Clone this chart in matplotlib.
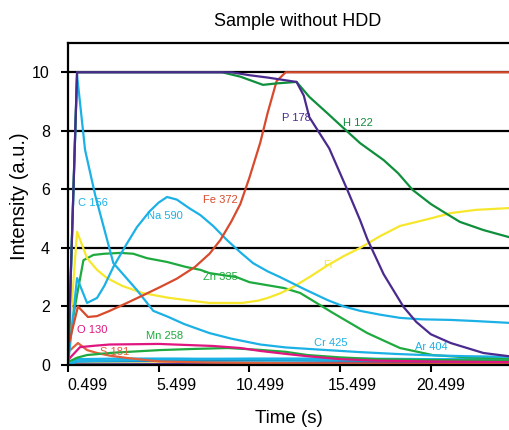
import matplotlib
matplotlib.use("Agg")
import matplotlib.pyplot as plt

plt.rcParams['font.family'] = ['Liberation Sans', 'DejaVu Sans']

# ---- data (time in s, intensity in a.u.) ----
h122_t = [0, 0.5, 8.5, 9.5, 10.75, 11.5, 12.6, 13.3, 14.3, 15.0, 16.1, 17.4, 18.2, 19.0, 20.0, 20.7, 21.6, 22.9, 24.3]
h122_v = [0, 10, 10, 9.85, 9.57, 9.62, 9.67, 9.16, 8.6, 8.2, 7.58, 7.0, 6.55, 5.98, 5.5, 5.23, 4.89, 4.61, 4.37]

p178_t = [0, 0.5, 9.0, 10.0, 11.0, 12.6, 13.0, 13.3, 14.4, 15.4, 16.1, 16.5, 17.4, 18.5, 19.2, 20.0, 21.1, 22.9, 24.3]
p178_v = [0, 10, 10, 9.9, 9.82, 9.67, 9.2, 8.47, 7.4, 5.98, 4.95, 4.3, 3.1, 1.98, 1.47, 1.05, 0.75, 0.41, 0.3]

fe372_t = [0, 0.55, 1.1, 1.6, 2.3, 3.25, 4.2, 5.07, 6.0, 7.0, 7.8, 8.4, 9.0, 9.5, 10.0, 10.6, 11.0, 11.5, 12.0, 24.3]
fe372_v = [0.6, 2.0, 1.64, 1.67, 1.85, 2.12, 2.4, 2.66, 2.95, 3.35, 3.8, 4.27, 4.9, 5.5, 6.4, 7.6, 8.6, 9.7, 10, 10]

c156_t = [0, 0.5, 0.94, 1.5, 2.5, 3.8, 4.7, 5.5, 6.4, 7.3, 7.8, 9.0, 10.6, 12.0, 14.0, 16.1, 18.0, 20.0, 22.0, 24.3]
c156_v = [0, 9.9, 7.35, 5.8, 3.48, 2.56, 1.85, 1.65, 1.4, 1.2, 1.09, 0.9, 0.7, 0.6, 0.52, 0.44, 0.38, 0.33, 0.3, 0.28]

na590_t = [0, 0.5, 1.05, 1.6, 2.0, 2.5, 3.2, 3.8, 4.5, 5.0, 5.46, 6.0, 6.7, 7.3, 8.0, 8.76, 9.5, 10.2, 11.0, 11.7, 13.0, 14.3, 15.2, 16.1, 17.2, 18.3, 19.5, 21.1, 22.5, 24.3]
na590_v = [0, 2.97, 2.12, 2.29, 2.7, 3.35, 4.1, 4.71, 5.25, 5.55, 5.74, 5.65, 5.35, 5.12, 4.75, 4.27, 3.85, 3.48, 3.2, 3.0, 2.6, 2.22, 2.0, 1.85, 1.72, 1.61, 1.56, 1.54, 1.5, 1.44]

fi_t = [0, 0.5, 1.05, 1.6, 2.15, 3.0, 4.1, 5.5, 7.0, 7.8, 9.6, 10.5, 11.0, 11.7, 12.4, 13.3, 14.3, 15.2, 16.1, 17.2, 18.3, 19.95, 21.1, 22.5, 24.3]
fi_v = [0.3, 4.55, 3.65, 3.25, 2.97, 2.7, 2.46, 2.3, 2.18, 2.12, 2.12, 2.2, 2.29, 2.45, 2.66, 3.0, 3.4, 3.72, 4.0, 4.4, 4.75, 5.0, 5.19, 5.3, 5.36]

zn335_t = [0, 0.5, 0.85, 1.4, 2.0, 2.9, 3.6, 4.35, 5.46, 6.5, 7.3, 7.8, 9.3, 10.0, 11.9, 12.8, 14.6, 16.5, 18.3, 20.1, 22.0, 24.3]
zn335_v = [0.6, 2.4, 3.58, 3.76, 3.8, 3.83, 3.8, 3.65, 3.52, 3.35, 3.25, 3.14, 3.0, 2.83, 2.63, 2.46, 1.78, 1.09, 0.58, 0.34, 0.26, 0.22]

mn258_t = [0, 0.5, 1.05, 2.5, 5.07, 7.0, 8.8, 10.5, 12.0, 13.2, 15.0, 17.0, 20.0, 24.3]
mn258_v = [0.1, 0.25, 0.34, 0.42, 0.51, 0.55, 0.58, 0.52, 0.45, 0.34, 0.26, 0.2, 0.17, 0.15]

o130_t = [0, 0.66, 1.5, 2.3, 5.0, 8.0, 9.5, 10.6, 12.0, 13.2, 15.0, 17.0, 20.0, 24.3]
o130_v = [0.17, 0.61, 0.66, 0.7, 0.72, 0.65, 0.58, 0.48, 0.38, 0.3, 0.2, 0.15, 0.12, 0.1]

s181_t = [0, 0.55, 1.05, 1.6, 2.3, 3.25, 5.07, 8.0, 12.0, 16.0, 20.0, 24.3]
s181_v = [0.44, 0.75, 0.51, 0.41, 0.32, 0.24, 0.12, 0.08, 0.06, 0.05, 0.04, 0.04]

cr425_t = [0, 0.5, 2.0, 4.0, 7.0, 10.0, 13.0, 16.0, 20.0, 24.3]
cr425_v = [0, 0.12, 0.15, 0.18, 0.2, 0.22, 0.22, 0.22, 0.2, 0.2]

ar404_t = [0, 0.5, 3.0, 6.0, 10.0, 14.0, 18.0, 24.3]
ar404_v = [0, 0.2, 0.22, 0.22, 0.2, 0.18, 0.17, 0.17]

low_t = [0, 0.5, 5.0, 10.0, 14.0, 18.0, 24.3]
low_teal_v = [0, 0.12, 0.14, 0.15, 0.15, 0.14, 0.14]
low_purple_v = [0, 0.02, 0.03, 0.04, 0.08, 0.1, 0.1]
low_yellow_v = [0, 0.05, 0.05, 0.05, 0.05, 0.05, 0.05]
low_brown_v = [0, 0.03, 0.02, 0.02, 0.02, 0.02, 0.02]

tick_pos = [0, 5, 10, 15, 20]
label_pos = [1.05, 6.0, 10.6, 15.65, 20.55]
tick_labels = ['0.499', '5.499', '10.499', '15.499', '20.499']

# ---- colours ----
c_h = '#0f8f3c'
c_p = '#4b2a8e'
c_fe = '#d84a2c'
c_blue = '#1cb1e6'
c_yel = '#f6e72c'
c_grn = '#1eaa3e'
c_mag = '#e0157f'
c_s = '#e2603c'

fig = plt.figure(figsize=(5.09, 4.30), dpi=100)
ax = fig.add_axes([68/509, 65/430, 441/509, 322/430])

lw = 1.6
ax.plot(low_t, low_brown_v, color='#a0522d', lw=lw)
ax.plot(low_t, low_yellow_v, color='#e8c020', lw=lw)
ax.plot(low_t, low_purple_v, color='#5b3a9e', lw=lw)
ax.plot(low_t, low_teal_v, color='#1a8fbf', lw=lw)
ax.plot(ar404_t, ar404_v, color=c_blue, lw=lw)
ax.plot(cr425_t, cr425_v, color=c_blue, lw=lw)
ax.plot(s181_t, s181_v, color=c_s, lw=lw)
ax.plot(mn258_t, mn258_v, color=c_grn, lw=lw)
ax.plot(o130_t, o130_v, color=c_mag, lw=lw)
ax.plot(zn335_t, zn335_v, color=c_grn, lw=lw)
ax.plot(fi_t, fi_v, color=c_yel, lw=lw)
ax.plot(na590_t, na590_v, color=c_blue, lw=lw)
ax.plot(c156_t, c156_v, color=c_blue, lw=lw)
ax.plot(fe372_t, fe372_v, color=c_fe, lw=lw)
ax.plot(h122_t, h122_v, color=c_h, lw=lw)
ax.plot(p178_t, p178_v, color=c_p, lw=lw)

# series labels
fs = 8
ax.text(1.4, 5.55, 'C 156', color=c_blue, fontsize=fs, ha='center', va='center')
ax.text(5.35, 5.1, 'Na 590', color=c_blue, fontsize=fs, ha='center', va='center')
ax.text(8.4, 5.65, 'Fe 372', color=c_fe, fontsize=fs, ha='center', va='center')
ax.text(12.6, 8.44, 'P 178', color=c_p, fontsize=fs, ha='center', va='center')
ax.text(15.98, 8.27, 'H 122', color=c_h, fontsize=fs, ha='center', va='center')
ax.text(8.4, 3.0, 'Zn 335', color=c_grn, fontsize=fs, ha='center', va='center')
ax.text(14.33, 3.42, 'Fi', color=c_yel, fontsize=fs, ha='center', va='center')
ax.text(14.5, 0.75, 'Cr 425', color=c_blue, fontsize=fs, ha='center', va='center')
ax.text(20.0, 0.61, 'Ar 404', color=c_blue, fontsize=fs, ha='center', va='center')
ax.text(1.33, 1.2, 'O 130', color=c_mag, fontsize=fs, ha='center', va='center')
ax.text(5.35, 0.99, 'Mn 258', color=c_grn, fontsize=fs, ha='center', va='center')
ax.text(2.55, 0.44, 'S 181', color=c_s, fontsize=fs, ha='center', va='center')

ax.set_xlim(0, 24.31)
ax.set_ylim(0, 11)
ax.set_yticks([0, 2, 4, 6, 8, 10])
ax.set_xticks(tick_pos)
ax.set_xticklabels([])
ax.set_xticks(label_pos, minor=True)
ax.set_xticklabels(tick_labels, minor=True)
ax.tick_params(axis='x', which='minor', length=0, pad=9, labelsize=11.5)
ax.tick_params(axis='x', which='major', length=5, width=1.5, direction='out')
ax.tick_params(axis='y', length=5, width=1.5, direction='out', pad=8, labelsize=11.5)

ax.yaxis.grid(True, color='black', lw=1.6)
ax.set_axisbelow(True)
for side in ['left', 'bottom', 'top']:
    ax.spines[side].set_linewidth(1.6)
    ax.spines[side].set_color('black')
ax.spines['right'].set_visible(False)

ax.set_title('Sample without HDD', fontsize=13, pad=12, x=0.52)
ax.set_ylabel('Intensity (a.u.)', fontsize=14.5)
ax.yaxis.set_label_coords(-0.088, 0.525)
ax.set_xlabel('Time (s)', fontsize=13.5)
ax.xaxis.set_label_coords(0.5, -0.14)

fig.savefig('out.png', dpi=100)
